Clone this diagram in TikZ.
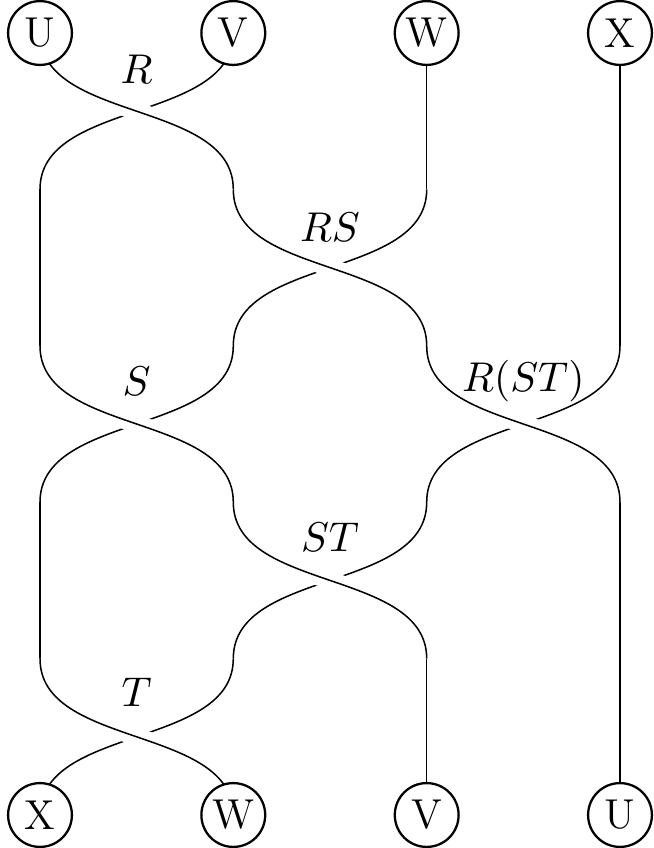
\documentclass[tikz,border=0pt]{standalone}
\pgfdeclarelayer{bg}
\pgfsetlayers{bg,main}
\begin{document}
\begin{tikzpicture}[x=0.2632pt,y=-0.2632pt,line width=0.6pt,
  every node/.style={font=\fontsize{11}{13}\selectfont},
  vert/.style={circle,draw,fill=white,minimum size=16.8pt,inner sep=0pt},
  xing/.style={to path={.. controls +(0,90) and +(0,-90) .. (\tikztotarget)}},
  over/.style={preaction={draw=white,line width=4.8pt}},
  lbl/.style={inner sep=0pt}]
\useasboundingbox (0,0) rectangle (653,848);
% vertices
\node[vert] (U1) at (40,33) {U};
\node[vert] (V1) at (233.3,33) {V};
\node[vert] (W1) at (426.7,33) {W};
\node[vert] (X1) at (620,33) {X};
\node[vert] (X2) at (40,815) {X};
\node[vert] (W2) at (233.3,815) {W};
\node[vert] (V2) at (426.7,815) {V};
\node[vert] (U2) at (620,815) {U};
% level points
\coordinate (c11) at (40,189.4);
\coordinate (c21) at (233.3,189.4);
\coordinate (c31) at (426.7,189.4);
\coordinate (c12) at (40,345.8);
\coordinate (c22) at (233.3,345.8);
\coordinate (c32) at (426.7,345.8);
\coordinate (c42) at (620,345.8);
\coordinate (c13) at (40,502.2);
\coordinate (c23) at (233.3,502.2);
\coordinate (c33) at (426.7,502.2);
\coordinate (c43) at (620,502.2);
\coordinate (c14) at (40,658.6);
\coordinate (c24) at (233.3,658.6);
\coordinate (c34) at (426.7,658.6);
\begin{pgfonlayer}{bg}
% vertical runs
\draw (W1.center) -- (c31);
\draw (X1.center) -- (c42);
\draw (c11) -- (c12);
\draw (c13) -- (c14);
\draw (c43) -- (U2.center);
\draw (c34) -- (V2.center);
% R
\draw (V1.center) to[xing] (c11);
\draw[over] (U1.center) to[xing] (c21);
% RS
\draw (c31) to[xing] (c22);
\draw[over] (c21) to[xing] (c32);
% S
\draw (c22) to[xing] (c13);
\draw[over] (c12) to[xing] (c23);
% R(ST)
\draw (c42) to[xing] (c33);
\draw[over] (c32) to[xing] (c43);
% ST
\draw (c33) to[xing] (c24);
\draw[over] (c23) to[xing] (c34);
% T
\draw (c24) to[xing] (X2.center);
\draw[over] (c14) to[xing] (W2.center);
\end{pgfonlayer}
% labels
\node[lbl] (lR) at (136.7,69) {$R$};
\node[lbl] (lRS) at (330,227) {$RS$};
\node[lbl] (lS) at (136.7,381) {$S$};
\node[lbl] (lRST) at (523.3,381) {$R(ST)$};
\node[lbl] (lST) at (330,537) {$ST$};
\node[lbl] (lT) at (136.7,692) {$T$};
\end{tikzpicture}
\end{document}
